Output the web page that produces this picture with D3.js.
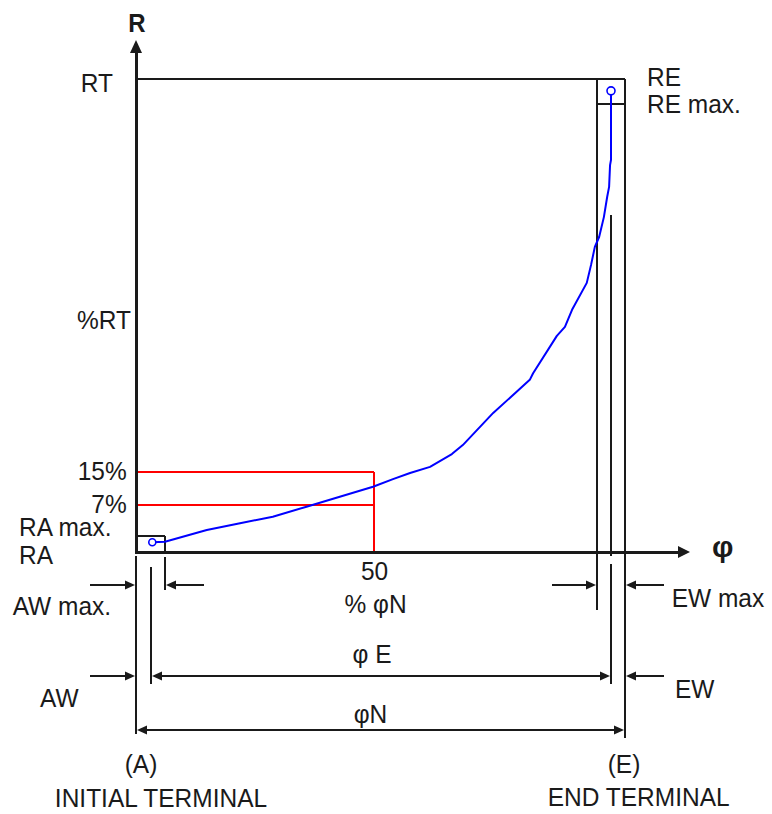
<!DOCTYPE html>
<html>
<head>
<meta charset="utf-8">
<script src="https://cdn.jsdelivr.net/npm/d3@7"></script>
<style>
html,body{margin:0;padding:0;background:#fff;}
svg{display:block;}
text{font-family:"Liberation Sans",Arial,sans-serif;fill:#1a1a1a;}
</style>
</head>
<body>
<svg id="chart" width="772" height="814"></svg>
<script>
// ---- data (phi in % of phiE, R in % of RT) ----
const curvePhi = [3.43, 6.1, 14.9, 21.9, 28.8, 35.9, 42.9, 49.9, 54.1, 57.7, 61.9, 66.5, 68.8, 75.2, 82.9, 83.6, 88.6, 90.3, 91.8, 94.9, 95.8, 96.6, 97.5, 98.5, 99.2, 99.6, 99.8, 100, 100];
const curveR   = [2.05, 2.18, 4.65, 6.07, 7.46, 9.58, 11.69, 13.8, 15.4, 16.7, 18.0, 20.7, 22.6, 29.4, 36.4, 37.8, 45.7, 47.6, 51.2, 56.9, 60.7, 64.5, 66.6, 70.8, 75.1, 77.2, 81.8, 82.9, 97.5];
const levelLabels = ["15%", "7%"];
const levelValues = [17.0, 9.9];
const halfPhi = 50;
const RT = 100, RAmax = 3.4, REmax = 94.7;
const AW = 3.16, AWmax = 6.1, EWmax = 97.05, phiE = 100, phiN = 102.95;
const phiELineTop = 71.2;

const svg = d3.select("#chart");
const x = d3.scaleLinear().domain([0, 100]).range([136, 611]);
const y = d3.scaleLinear().domain([0, 100]).range([552, 79]);
const x0 = x(0), y0 = y(0);
const ink = "#1a1a1a";

function line(x1, y1, x2, y2, color, w) {
  svg.append("line").attr("x1", x1).attr("y1", y1).attr("x2", x2).attr("y2", y2)
    .attr("stroke", color || ink).attr("stroke-width", w || 2).attr("shape-rendering", "crispEdges");
}
// arrowhead with tip at (tx,ty), dir: 'r','l','u'
function head(tx, ty, dir, len, half) {
  let pts;
  if (dir === "r") pts = [[tx, ty], [tx - len, ty - half], [tx - len, ty + half]];
  if (dir === "l") pts = [[tx, ty], [tx + len, ty - half], [tx + len, ty + half]];
  if (dir === "u") pts = [[tx, ty], [tx - half, ty + len], [tx + half, ty + len]];
  svg.append("path").attr("d", "M" + pts.map(p => p.join(",")).join("L") + "Z").attr("fill", ink);
}
function label(tx, ty, str, anchor, size, weight, sy) {
  svg.append("text").attr("transform", `translate(${tx},${ty}) scale(1,${sy || 1.08})`)
    .attr("text-anchor", anchor || "start").attr("font-size", size || 24.5)
    .attr("font-weight", weight || "normal").text(str);
}

// ---- red reference lines ----
levelValues.forEach(v => line(x0, y(v), x(halfPhi), y(v), "#ff0000", 2));
line(x(halfPhi), y(d3.max(levelValues)), x(halfPhi), y0, "#ff0000", 2);

// ---- RT line and boxes ----
line(x0, y(RT), x(phiN), y(RT));
line(x(EWmax), y(REmax), x(phiN), y(REmax));
line(x0, y(RAmax), x(AWmax), y(RAmax));
line(x(AWmax), y(RAmax), x(AWmax), y0);

// ---- vertical extension lines ----
line(x(EWmax), y(RT), x(EWmax), y0 + 58);
line(x(phiN), y(RT), x(phiN), y0 + 186);
line(x(phiE), y(phiELineTop), x(phiE), y0 + 4);
line(x(phiE), y0 + 12, x(phiE), y0 + 132);
line(x0, y0 + 4, x0, y0 + 182);
line(x(AW), y0 + 15, x(AW), y0 + 132);
line(x(AWmax), y0 + 5, x(AWmax), y0 + 38);

// ---- curve ----
const pts = curvePhi.map((p, i) => [x(p), y(curveR[i])]);
svg.append("path").attr("d", d3.line()(pts)).attr("fill", "none")
  .attr("stroke", "#0000ff").attr("stroke-width", 2).attr("stroke-linejoin", "round");
svg.append("circle").attr("cx", pts[0][0]).attr("cy", pts[0][1]).attr("r", 3.5)
  .attr("fill", "#fff").attr("stroke", "#0000ff").attr("stroke-width", 1.6);
svg.append("circle").attr("cx", pts[pts.length - 1][0]).attr("cy", pts[pts.length - 1][1]).attr("r", 4)
  .attr("fill", "#fff").attr("stroke", "#0000ff").attr("stroke-width", 1.6);

// ---- axes ----
line(x0, y0, 680, y0, ink, 3);
head(690, y0, "r", 12, 6);
line(x0, y0 + 1.5, x0, 52, ink, 3);
head(x0, 40, "u", 13, 6);

// ---- dimension arrows ----
const rowMax = y0 + 33, rowW = y0 + 124, rowN = y0 + 178;
line(90, rowMax, x0 - 8, rowMax); head(x0 - 1, rowMax, "r", 10, 4.5);
line(x(AWmax) + 8, rowMax, 204, rowMax); head(x(AWmax) + 1, rowMax, "l", 10, 4.5);
line(552, rowMax, x(EWmax) - 8, rowMax); head(x(EWmax) - 1, rowMax, "r", 10, 4.5);
line(x(phiN) + 8, rowMax, 664, rowMax); head(x(phiN) + 1, rowMax, "l", 10, 4.5);

line(90, rowW, x0 - 8, rowW); head(x0 - 1, rowW, "r", 10, 4.5);
line(x(AW) + 8, rowW, x(phiE) - 8, rowW); head(x(AW) + 1, rowW, "l", 10, 4.5); head(x(phiE) - 1, rowW, "r", 10, 4.5);
line(x(phiN) + 8, rowW, 664, rowW); head(x(phiN) + 1, rowW, "l", 10, 4.5);

line(x0 + 8, rowN, x(phiN) - 8, rowN); head(x0 + 1, rowN, "l", 10, 4.5); head(x(phiN) - 1, rowN, "r", 10, 4.5);

// ---- labels ----
label(x0 + 1, 32, "R", "middle", 24, "bold");
label(712, 557, "φ", "start", 30, "bold", 1.0);
label(80.7, 92, "RT");
label(77, 329, "%RT");
levelLabels.forEach((s, i) => label(126.7, y(levelValues[i]) + 8, s, "end"));
label(19, 536, "RA max.");
label(19, 564, "RA");
label(647, 86, "RE");
label(647, 113, "RE max.");
label(x(halfPhi) + 1, 580, "50", "middle");
label(x(halfPhi) + 2, 613, "% φN", "middle");
label(372, 663, "φ E", "middle");
label(370.5, 722.5, "φN", "middle");
label(12.7, 615, "AW max.");
label(40, 707, "AW");
label(671.7, 607, "EW max");
label(675, 698, "EW");
label(141, 773, "(A)", "middle");
label(161, 807, "INITIAL TERMINAL", "middle");
label(624, 773, "(E)", "middle");
label(638.7, 806, "END TERMINAL", "middle");
</script>
</body>
</html>
